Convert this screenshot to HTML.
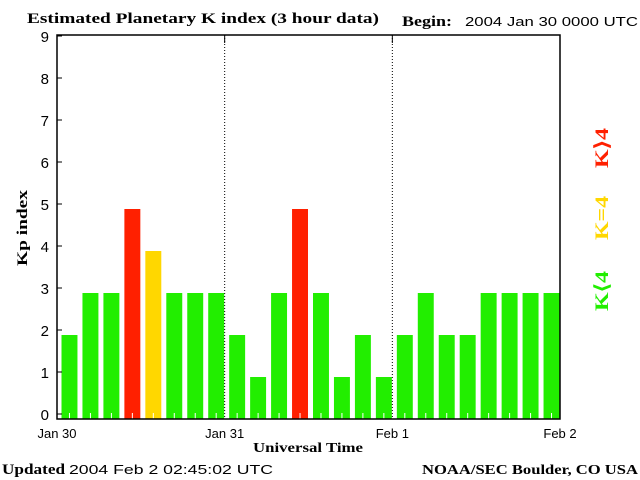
<!DOCTYPE html>
<html><head><meta charset="utf-8"><style>
html,body{margin:0;padding:0;background:#fff;width:640px;height:480px;overflow:hidden}
svg{display:block}
.serif{font-family:"Liberation Serif",serif;font-weight:bold}
.sans{font-family:"Liberation Sans",sans-serif}
</style></head><body>
<svg id="chart" width="640" height="480" xmlns="http://www.w3.org/2000/svg">
<text class="serif" x="27" y="23" font-size="15" textLength="352" lengthAdjust="spacingAndGlyphs">Estimated Planetary K index (3 hour data)</text>
<text class="serif" x="402" y="26" font-size="15" textLength="50" lengthAdjust="spacingAndGlyphs">Begin:</text>
<text class="sans" x="465" y="26" font-size="13" textLength="173" lengthAdjust="spacingAndGlyphs">2004 Jan 30 0000 UTC</text>
<g id="bars"></g>
<g id="axes"></g>
<text class="serif" font-size="15" transform="translate(27,228) rotate(-90)" text-anchor="middle" textLength="76" lengthAdjust="spacingAndGlyphs">Kp index</text>
<text class="serif" x="253" y="452" font-size="14" textLength="110" lengthAdjust="spacingAndGlyphs">Universal Time</text>
<text class="serif" x="2" y="474" font-size="15" textLength="63" lengthAdjust="spacingAndGlyphs">Updated</text>
<text class="sans" x="69" y="474" font-size="13" textLength="204" lengthAdjust="spacingAndGlyphs">2004 Feb  2 02:45:02 UTC</text>
<text class="serif" x="422" y="474" font-size="14" textLength="216" lengthAdjust="spacingAndGlyphs">NOAA/SEC Boulder, CO USA</text>
<text class="serif" font-size="19" fill="#ff2000" transform="translate(608,148) rotate(-90)" text-anchor="middle" textLength="40" lengthAdjust="spacingAndGlyphs">K⟩4</text>
<text class="serif" font-size="19" fill="#ffd700" transform="translate(608,218) rotate(-90)" text-anchor="middle" textLength="44" lengthAdjust="spacingAndGlyphs">K=4</text>
<text class="serif" font-size="19" fill="#22ee00" transform="translate(608,291) rotate(-90)" text-anchor="middle" textLength="40" lengthAdjust="spacingAndGlyphs">K⟨4</text>
</svg>
<script>
const kpValues=[2,3,3,5,4,3,3,3,2,1,3,5,3,1,2,1,2,3,2,2,3,3,3,3];
const yTicks=[0,1,2,3,4,5,6,7,8,9];
const dayLabels=["Jan 30","Jan 31","Feb 1","Feb 2"];
const NS="http://www.w3.org/2000/svg";
const L=57,R=560,T=35,B=419,U=42;
const xs=i=>L+i*(R-L)/kpValues.length;
const ys=v=>B-v*U;
function mk(tag,attrs,parent){const e=document.createElementNS(NS,tag);for(const k in attrs)e.setAttribute(k,attrs[k]);parent.appendChild(e);return e;}
const bars=document.getElementById('bars'),axes=document.getElementById('axes');
const bw=(R-L)/kpValues.length;
kpValues.forEach((v,i)=>{
  const c=v>4?'#ff2000':v===4?'#ffd700':'#22ee00';
  const r=mk('rect',{x:xs(i)+4.5,y:ys(v),width:bw-5,height:B-ys(v),fill:c},bars);
  
  
  const t=mk('line',{x1:xs(i)+bw/2+2,x2:xs(i)+bw/2+2,y1:B,y2:B-6,stroke:'#fff','stroke-width':1},bars);
  
  
});
const frame=mk('rect',{x:L,y:T,width:R-L,height:B-T,fill:'none',stroke:'#000','stroke-width':1.5},axes);


yTicks.forEach(v=>{
  const y=ys(v);
  const tk=mk('line',{x1:L,x2:L+5,y1:Math.max(y-5,T),y2:Math.max(y-5,T),stroke:'#000'},axes);
  
  
  const lb=mk('text',{x:L-8,y:Math.max(y-5,T)+6,'font-size':15,'text-anchor':'end','font-family':'Liberation Sans, sans-serif'},axes);
  lb.textContent=v;
  
  
});
dayLabels.forEach((d,j)=>{
  const x=L+j*8*bw;
  if(j>0&&j<3){
    const dl=mk('line',{x1:x,x2:x,y1:T,y2:B,stroke:'#000','stroke-dasharray':'1,2'},axes);
    
    
    const dt=mk('line',{x1:x,x2:x,y1:T,y2:T+8,stroke:'#000'},axes);
    
    
  }
  const lb=mk('text',{x:x,y:B+19,'font-size':13,'text-anchor':'middle','font-family':'Liberation Sans, sans-serif'},axes);
  lb.textContent=d;
  
  
});
</script>
</body></html>
